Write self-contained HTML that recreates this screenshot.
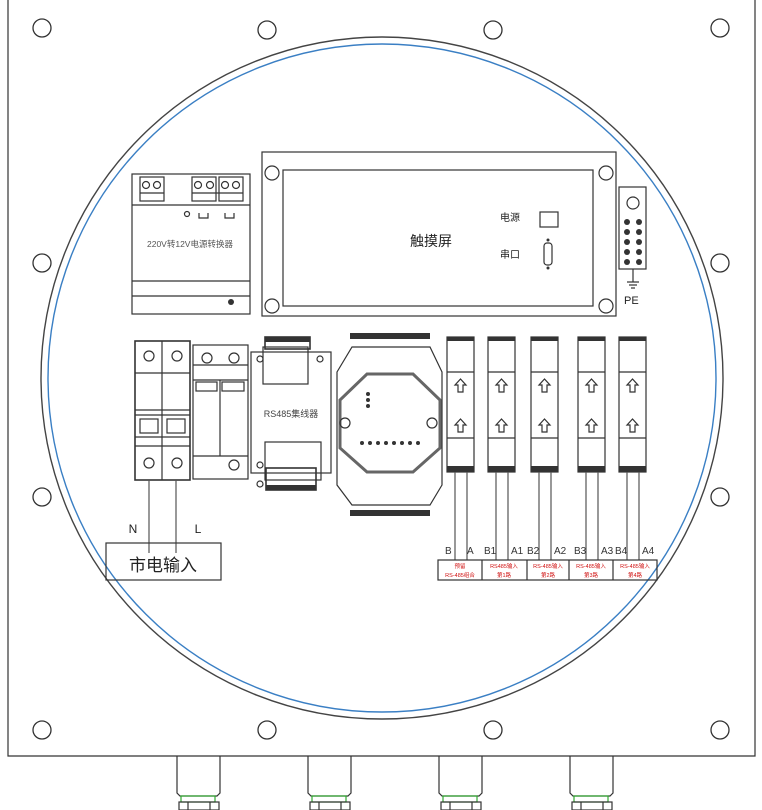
<!DOCTYPE html>
<html><head><meta charset="utf-8"><style>
html,body{margin:0;padding:0;background:#fff;}
svg{display:block}
text{font-family:"Liberation Sans","Noto Sans CJK SC",sans-serif;}
</style></head><body>
<svg width="762" height="810" viewBox="0 0 762 810" xmlns="http://www.w3.org/2000/svg">
<g fill="none" stroke="#333" stroke-width="1.2">
<!-- panel -->
<path d="M8 0 V756 H755 V0"/>
<circle cx="382" cy="378" r="341" stroke="#444" stroke-width="1.4"/>
<circle cx="382" cy="378" r="334" stroke="#3a7fc4" stroke-width="1.4"/>
<!-- holes -->
<g stroke-width="1.3">
<circle cx="42" cy="28" r="9"/><circle cx="267" cy="30" r="9"/><circle cx="493" cy="30" r="9"/><circle cx="720" cy="28" r="9"/>
<circle cx="42" cy="263" r="9"/><circle cx="720" cy="263" r="9"/>
<circle cx="42" cy="497" r="9"/><circle cx="720" cy="497" r="9"/>
<circle cx="42" cy="730" r="9"/><circle cx="267" cy="730" r="9"/><circle cx="493" cy="730" r="9"/><circle cx="720" cy="730" r="9"/>
</g>
<!-- touch screen -->
<rect x="262" y="152" width="354" height="164"/>
<rect x="283" y="170" width="310" height="136"/>
<circle cx="272" cy="173" r="7"/><circle cx="606" cy="173" r="7"/><circle cx="272" cy="306" r="7"/><circle cx="606" cy="306" r="7"/>
<rect x="540" y="212" width="18" height="15"/>
<rect x="544" y="243" width="8" height="22" rx="3"/>
<!-- PE -->
<rect x="619" y="187" width="27" height="82"/>
<circle cx="633" cy="203" r="6"/>
<line x1="633" y1="269" x2="633" y2="282"/>
<line x1="627" y1="282" x2="639" y2="282"/><line x1="629" y1="285" x2="637" y2="285"/><line x1="631" y1="288" x2="635" y2="288"/>
<!-- power converter -->
<rect x="132" y="174" width="118" height="140"/>
<line x1="132" y1="205" x2="250" y2="205"/>
<line x1="132" y1="281" x2="250" y2="281"/>
<line x1="132" y1="296" x2="250" y2="296"/>
<rect x="140" y="177" width="24" height="24"/><rect x="192" y="177" width="24" height="24"/><rect x="219" y="177" width="24" height="24"/>
<line x1="140" y1="193" x2="164" y2="193"/><line x1="192" y1="193" x2="243" y2="193"/>
<circle cx="146" cy="185" r="3.5"/><circle cx="157" cy="185" r="3.5"/><circle cx="198" cy="185" r="3.5"/><circle cx="210" cy="185" r="3.5"/><circle cx="225" cy="185" r="3.5"/><circle cx="236" cy="185" r="3.5"/>
<circle cx="187" cy="214" r="2.5"/>
<path d="M199 213v5h9v-5M225 213v5h9v-5"/>
<!-- breaker -->
<rect x="135" y="341" width="55" height="139" stroke-width="1.6"/>
<line x1="162" y1="341" x2="162" y2="480"/>
<line x1="135" y1="373" x2="190" y2="373"/>
<line x1="135" y1="410" x2="190" y2="410"/>
<line x1="135" y1="415" x2="190" y2="415"/>
<line x1="135" y1="437" x2="190" y2="437"/>
<line x1="135" y1="446" x2="190" y2="446"/>
<rect x="140" y="419" width="18" height="14"/><rect x="167" y="419" width="18" height="14"/>
<circle cx="149" cy="356" r="5"/><circle cx="177" cy="356" r="5"/><circle cx="149" cy="463" r="5"/><circle cx="177" cy="463" r="5"/>
<!-- SPD -->
<rect x="193" y="345" width="55" height="134"/>
<line x1="220" y1="380" x2="220" y2="456"/>
<line x1="193" y1="380" x2="248" y2="380"/>
<line x1="193" y1="456" x2="248" y2="456"/>
<line x1="193" y1="365" x2="248" y2="365"/>
<rect x="196" y="382" width="21" height="9"/><rect x="222" y="382" width="22" height="9"/>
<circle cx="207" cy="358" r="5"/><circle cx="234" cy="358" r="5"/><circle cx="234" cy="465" r="5"/>
<!-- RS485 hub -->
<rect x="251" y="352" width="80" height="121"/>
<rect x="263" y="347" width="45" height="37"/>
<rect x="265" y="337" width="45" height="12" stroke-width="1.6"/>
<rect x="265" y="442" width="56" height="38"/>
<rect x="266" y="468" width="50" height="22" stroke-width="1.6"/>
<circle cx="260" cy="359" r="3"/><circle cx="320" cy="359" r="3"/><circle cx="260" cy="465" r="3"/><circle cx="260" cy="484" r="3"/>
<!-- module -->
<path d="M352 347 H430 L442 372 V485 L430 505 H352 L337 485 V372 Z"/>
<path d="M367 374 H413 L440 400 V448 L413 472 H367 L340 448 V400 Z" stroke="#666" stroke-width="3"/>
<circle cx="345" cy="423" r="5"/><circle cx="432" cy="423" r="5"/>
<!-- isolators -->
<g id="iso">
<rect x="447" y="337" width="27" height="135"/>
<line x1="447" y1="372" x2="474" y2="372"/><line x1="447" y1="438" x2="474" y2="438"/>
<path d="M458 392v-7h-3l5.5-6 5.5 6h-3v7z"/><path d="M458 432v-7h-3l5.5-6 5.5 6h-3v7z"/>
</g>
<use href="#iso" x="41"/><use href="#iso" x="84"/><use href="#iso" x="131"/><use href="#iso" x="172"/>
<!-- wires -->
<g stroke="#555">
<path d="M455 472V560M467 472V560M496 472V560M508 472V560M539 472V560M551 472V560M586 472V560M598 472V560M627 472V560M639 472V560"/>
<path d="M149 480V553M176 480V553"/>
</g>
<rect x="438" y="560" width="219" height="20"/>
<path d="M482 560V580M527 560V580M569 560V580M613 560V580"/>
<rect x="106" y="543" width="115" height="37"/>
<!-- glands -->
<g id="gl"><path d="M177 756V793l3 3H217l3-3V756"/><rect x="181" y="796" width="34" height="6" stroke="#3a3"/><rect x="179" y="802" width="40" height="8"/><path d="M188 802v8M210 802v8"/></g>
<use href="#gl" x="131"/><use href="#gl" x="262"/><use href="#gl" x="393"/>
</g>
<!-- terminal blocks (dark) -->
<g fill="#333">
<rect x="265" y="337" width="45" height="5"/>
<rect x="266" y="485" width="50" height="5"/>
<rect x="350" y="333" width="80" height="6"/>
<rect x="350" y="510" width="80" height="6"/>
<rect x="447" y="337" width="27" height="4"/><rect x="488" y="337" width="27" height="4"/><rect x="531" y="337" width="27" height="4"/><rect x="578" y="337" width="27" height="4"/><rect x="619" y="337" width="27" height="4"/>
<rect x="447" y="466" width="27" height="6"/><rect x="488" y="466" width="27" height="6"/><rect x="531" y="466" width="27" height="6"/><rect x="578" y="466" width="27" height="6"/><rect x="619" y="466" width="27" height="6"/>
<circle cx="231" cy="302" r="3"/>
<circle cx="368" cy="394" r="2"/><circle cx="368" cy="400" r="2"/><circle cx="368" cy="406" r="2"/>
<circle cx="362" cy="443" r="2"/><circle cx="370" cy="443" r="2"/><circle cx="378" cy="443" r="2"/><circle cx="386" cy="443" r="2"/><circle cx="394" cy="443" r="2"/><circle cx="402" cy="443" r="2"/><circle cx="410" cy="443" r="2"/><circle cx="418" cy="443" r="2"/>
<circle cx="627" cy="222" r="3"/><circle cx="639" cy="222" r="3"/><circle cx="627" cy="232" r="3"/><circle cx="639" cy="232" r="3"/><circle cx="627" cy="242" r="3"/><circle cx="639" cy="242" r="3"/><circle cx="627" cy="252" r="3"/><circle cx="639" cy="252" r="3"/><circle cx="627" cy="262" r="3"/><circle cx="639" cy="262" r="3"/>
<circle cx="548" cy="240" r="1.5"/><circle cx="548" cy="268" r="1.5"/>
</g>
<!-- text -->
<g fill="#222">
<text x="410" y="246" font-size="14">触摸屏</text>
<text x="500" y="221" font-size="10">电源</text>
<text x="500" y="258" font-size="10">串口</text>
<text x="624" y="304" font-size="11">PE</text>
<text x="190" y="247" font-size="8.5" text-anchor="middle" fill="#555">220V转12V电源转换器</text>
<text x="291" y="417" font-size="9" text-anchor="middle" fill="#444">RS485集线器</text>
<text x="133" y="533" font-size="12" text-anchor="middle">N</text>
<text x="198" y="533" font-size="12" text-anchor="middle">L</text>
<text x="163" y="571" font-size="17" text-anchor="middle">市电输入</text>
<g font-size="10" fill="#333">
<text x="445" y="554">B</text><text x="467" y="554">A</text>
<text x="484" y="554">B1</text><text x="511" y="554">A1</text>
<text x="527" y="554">B2</text><text x="554" y="554">A2</text>
<text x="574" y="554">B3</text><text x="601" y="554">A3</text>
<text x="615" y="554">B4</text><text x="642" y="554">A4</text>
</g>
<g font-size="5.5" fill="#d01010" text-anchor="middle">
<text x="460" y="568">预留</text><text x="460" y="577">RS-485组合</text>
<text x="504" y="568">RS485输入</text><text x="504" y="577">第1路</text>
<text x="548" y="568">RS-485输入</text><text x="548" y="577">第2路</text>
<text x="591" y="568">RS-485输入</text><text x="591" y="577">第3路</text>
<text x="635" y="568">RS-485输入</text><text x="635" y="577">第4路</text>
</g>
</g>
</svg>
</body></html>
